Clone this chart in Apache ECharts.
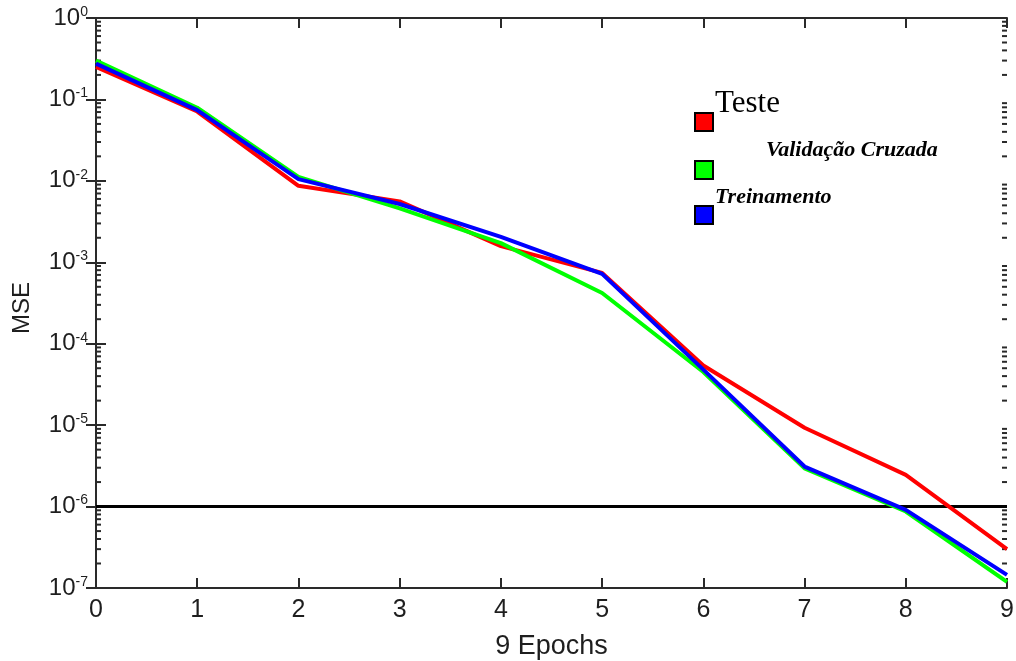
<!DOCTYPE html>
<html>
<head>
<meta charset="utf-8">
<script src="https://cdn.jsdelivr.net/npm/echarts@6/dist/echarts.min.js"></script>
<style>
html,body{margin:0;padding:0;background:#fff;}
#chart{width:1016px;height:661px;}
</style>
</head>
<body>
<div id="chart"></div>
<script>
// ---- data ----
var epochs = [0, 1, 2, 3, 4, 5, 6, 7, 8, 9];
var teste = [0.25, 0.071, 0.0087, 0.0056, 0.00158, 0.00074, 5.4e-5, 9.3e-6, 2.45e-6, 3.0e-7];
var validacao = [0.30, 0.079, 0.0112, 0.0046, 0.00172, 0.00042, 4.5e-5, 2.95e-6, 8.7e-7, 1.19e-7];
var treinamento = [0.275, 0.074, 0.0105, 0.0052, 0.00205, 0.00072, 4.8e-5, 3.1e-6, 9.1e-7, 1.45e-7];
var goal = 1e-6;
var goalRange = [0, 9];
var seriesNames = ['Teste', 'Validação Cruzada', 'Treinamento'];
var xTicks = [0, 1, 2, 3, 4, 5, 6, 7, 8, 9];
var yMinExp = -7, yMaxExp = 0;
var minorMultipliers = [2, 3, 4, 5, 6, 7, 8, 9];

function pairs(ys) { return epochs.map(function (x, i) { return [x, ys[i]]; }); }

var minorTicks = [];
for (var e = yMinExp; e < yMaxExp; e++) {
  minorMultipliers.forEach(function (m) { minorTicks.push([m * Math.pow(10, e)]); });
}

var axisColor = '#2a2a2a';
var textColor = '#1e1e1e';
var sansFont = '"Liberation Sans", Arial, sans-serif';
var serifFont = '"Liberation Serif", "Times New Roman", serif';

var chart = echarts.init(document.getElementById('chart'), null, {renderer: 'canvas'});

function yLabel(v) {
  var ex = Math.round(Math.log10(v));
  return '{b|10}{s|' + ex + '}';
}

var yAxisCommon = {
  type: 'log',
  logBase: 10,
  min: Math.pow(10, yMinExp),
  max: Math.pow(10, yMaxExp),
  interval: 1,
  splitLine: {show: false},
  axisLine: {show: true, lineStyle: {color: axisColor, width: 2}},
  axisTick: {show: true, inside: true, length: 10, lineStyle: {color: axisColor, width: 2}}
};

var option = {
  backgroundColor: '#ffffff',
  animation: false,
  grid: {left: 96, right: 9, top: 18, bottom: 73, containLabel: false, outerBoundsMode: 'none'},
  xAxis: [{
    type: 'value',
    min: 0, max: 9, interval: 1,
    name: '9 Epochs',
    nameLocation: 'middle',
    nameGap: 45,
    nameTextStyle: {fontFamily: sansFont, fontSize: 27, color: textColor},
    splitLine: {show: false},
    axisLine: {show: true, lineStyle: {color: axisColor, width: 2}},
    axisTick: {show: true, inside: true, length: 10, lineStyle: {color: axisColor, width: 2}},
    axisLabel: {
      fontFamily: sansFont, fontSize: 25, color: textColor, margin: 10,
      formatter: function (v) { return xTicks.indexOf(v) >= 0 ? String(v) : ''; }
    }
  }, {
    type: 'value',
    position: 'top',
    min: 0, max: 9, interval: 1,
    splitLine: {show: false},
    axisLine: {show: true, onZero: false, lineStyle: {color: axisColor, width: 2}},
    axisTick: {show: true, inside: true, length: 10, lineStyle: {color: axisColor, width: 2}},
    axisLabel: {show: false}
  }],
  yAxis: [Object.assign({}, yAxisCommon, {
    position: 'left',
    name: 'MSE',
    nameLocation: 'middle',
    nameGap: 62,
    nameRotate: 90,
    nameTextStyle: {fontFamily: sansFont, fontSize: 24, color: textColor, padding: [0, 10, 0, 0]},
    axisLabel: {
      margin: 8,
      formatter: yLabel,
      rich: {
        b: {fontFamily: sansFont, fontSize: 24, color: textColor, lineHeight: 26},
        s: {fontFamily: sansFont, fontSize: 14, color: textColor, verticalAlign: 'top', lineHeight: 14}
      }
    }
  }), Object.assign({}, yAxisCommon, {
    position: 'right',
    axisLabel: {show: false}
  })],
  series: [{
    name: 'minorTicks',
    type: 'custom',
    xAxisIndex: 0,
    yAxisIndex: 0,
    silent: true,
    z: 1,
    data: minorTicks,
    renderItem: function (params, api) {
      var v = api.value(0);
      var pl = api.coord([0, v]);
      var pr = api.coord([9, v]);
      var st = {stroke: axisColor, lineWidth: 2};
      return {
        type: 'group',
        children: [
          {type: 'line', shape: {x1: pl[0], y1: pl[1], x2: pl[0] + 5, y2: pl[1]}, style: st},
          {type: 'line', shape: {x1: pr[0] - 5, y1: pr[1], x2: pr[0], y2: pr[1]}, style: st}
        ]
      };
    }
  }, {
    name: 'goal',
    type: 'line',
    data: goalRange.map(function (x) { return [x, goal]; }),
    showSymbol: false,
    symbol: 'none',
    silent: true,
    lineStyle: {color: '#000000', width: 3},
    itemStyle: {color: '#000000'},
    z: 2
  }, {
    name: seriesNames[0],
    type: 'line',
    data: pairs(teste),
    showSymbol: false,
    symbol: 'none',
    lineStyle: {color: '#ff0000', width: 4},
    itemStyle: {color: '#ff0000'},
    z: 3
  }, {
    name: seriesNames[1],
    type: 'line',
    data: pairs(validacao),
    showSymbol: false,
    symbol: 'none',
    lineStyle: {color: '#00ff00', width: 4},
    itemStyle: {color: '#00ff00'},
    z: 3
  }, {
    name: seriesNames[2],
    type: 'line',
    data: pairs(treinamento),
    showSymbol: false,
    symbol: 'none',
    lineStyle: {color: '#0000ff', width: 4},
    itemStyle: {color: '#0000ff'},
    z: 3
  }],
  graphic: [
    {type: 'rect', left: 694, top: 112, shape: {width: 18, height: 18}, style: {fill: '#ff0000', stroke: '#000', lineWidth: 2}},
    {type: 'rect', left: 694, top: 160, shape: {width: 18, height: 18}, style: {fill: '#00ff00', stroke: '#000', lineWidth: 2}},
    {type: 'rect', left: 694, top: 205, shape: {width: 18, height: 18}, style: {fill: '#0000ff', stroke: '#000', lineWidth: 2}},
    {type: 'text', left: 715, top: 88, style: {text: seriesNames[0], font: '31px ' + serifFont, fill: '#000'}},
    {type: 'text', left: 766, top: 139, style: {text: seriesNames[1], font: 'italic bold 22px ' + serifFont, fill: '#000'}},
    {type: 'text', left: 715, top: 186, style: {text: seriesNames[2], font: 'italic bold 22px ' + serifFont, fill: '#000'}}
  ]
};

chart.setOption(option);
</script>
</body>
</html>
